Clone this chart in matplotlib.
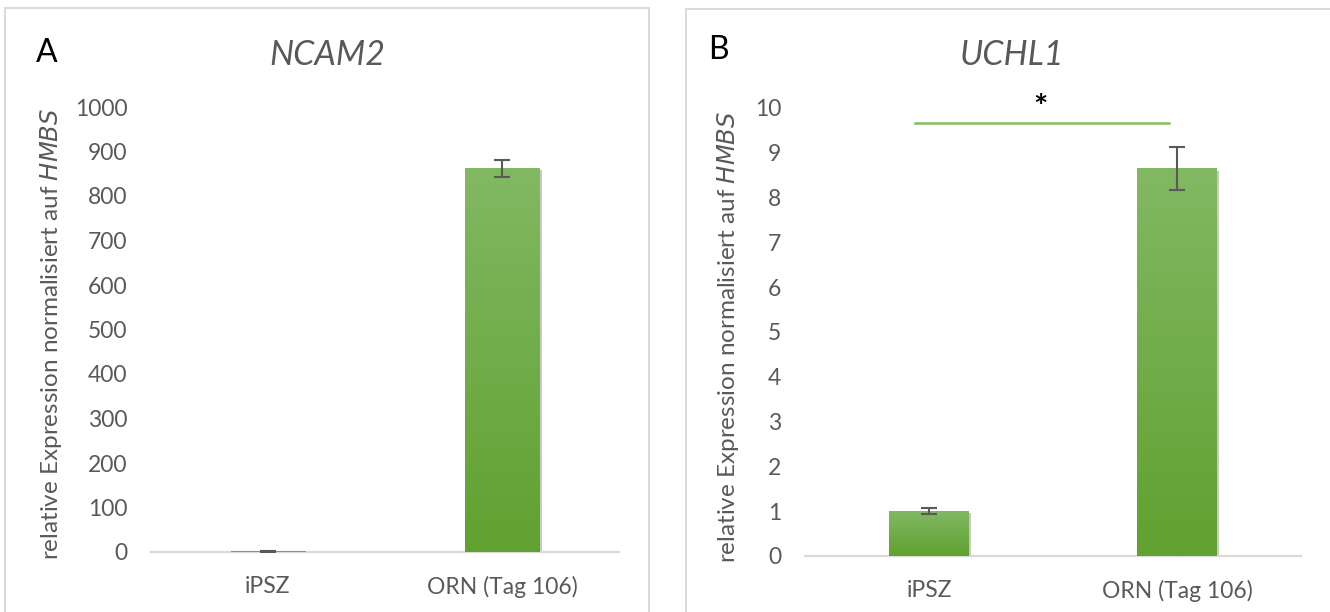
import matplotlib
matplotlib.use("Agg")
import matplotlib.pyplot as plt
import matplotlib.patheffects as pe
from matplotlib.patches import Rectangle
import numpy as np

plt.rcParams["font.family"] = ["Lato", "DejaVu Sans"]

categories = ["iPSZ", "ORN (Tag 106)"]

ncam2_values = [1.0, 862.0]
ncam2_errors = [2.0, 20.0]

uchl1_values = [1.0, 8.65]
uchl1_errors = [0.07, 0.47]

ncam2_ticks = list(range(0, 1001, 100))
uchl1_ticks = list(range(0, 11))

W, H = 1330, 612
TEXT_GREY = "#595959"
AXIS_GREY = "#d9d9d9"
GREEN_TOP = np.array([0x82, 0xb8, 0x63]) / 255
GREEN_BOTTOM = np.array([0x60, 0xa1, 0x30]) / 255


def px_rect(left, top, right, bottom):
    return [left / W, 1 - bottom / H, (right - left) / W, (bottom - top) / H]


def gradient_bars(ax, values, width):
    grad = np.linspace(0, 1, 256)[:, None]
    cols = GREEN_TOP[None, None, :] * (1 - grad[..., None]) + GREEN_BOTTOM[None, None, :] * grad[..., None]
    bars = ax.bar(range(len(values)), values, width=width, color=GREEN_BOTTOM, zorder=2,
                  path_effects=[pe.SimplePatchShadow(offset=(1.5, -1.5), alpha=0.25), pe.Normal()])
    for bar in bars:
        x0 = bar.get_x()
        h = bar.get_height()
        ax.imshow(cols, extent=[x0, x0 + bar.get_width(), 0, h], aspect="auto",
                  zorder=3, interpolation="bilinear")
    return bars


def style_axis(ax, ymax, ticks):
    ax.set_xlim(-0.5, 1.5)
    ax.set_ylim(0, ymax)
    ax.set_yticks(ticks)
    ax.set_xticks(range(len(categories)), categories)
    for side in ("top", "right", "left"):
        ax.spines[side].set_visible(False)
    ax.spines["bottom"].set_color(AXIS_GREY)
    ax.spines["bottom"].set_linewidth(1.6)
    ax.tick_params(axis="both", length=0, labelsize=16.5, labelcolor=TEXT_GREY)
    ax.tick_params(axis="y", pad=17)
    ax.tick_params(axis="x", pad=17)
    ax.set_ylabel("relative Expression normalisiert auf $\\mathit{HMBS}$", fontsize=17.5,
                  color=TEXT_GREY)
    ax.patch.set_alpha(0)


fig = plt.figure(figsize=(W / 100, H / 100), dpi=100)

# panel frames
for rect in (px_rect(5, 8, 649, 640), px_rect(686, 9, 1360, 640)):
    fig.patches.append(Rectangle((rect[0], rect[1]), rect[2], rect[3], transform=fig.transFigure,
                                 fill=False, edgecolor=AXIS_GREY, linewidth=1.4, zorder=0))

ax_a = fig.add_axes(px_rect(151, 107, 619, 552))
gradient_bars(ax_a, ncam2_values, 0.32)
ax_a.errorbar(range(2), ncam2_values, yerr=ncam2_errors, fmt="none", ecolor=TEXT_GREY,
              elinewidth=1.5, capsize=6, capthick=1.5, zorder=4)
style_axis(ax_a, 1000, ncam2_ticks)
ax_a.yaxis.set_label_coords(-0.185, 0.49)
fig.text(47 / W, 1 - 53 / H, "A", fontsize=23, color="black", ha="center", va="center")
fig.text(327 / W, 1 - 55 / H, "NCAM2", fontsize=24.5, style="italic", color=TEXT_GREY,
         ha="center", va="center")

ax_b = fig.add_axes(px_rect(805, 108, 1301, 556))
gradient_bars(ax_b, uchl1_values, 0.32)
ax_b.errorbar(range(2), uchl1_values, yerr=uchl1_errors, fmt="none", ecolor=TEXT_GREY,
              elinewidth=1.5, capsize=6, capthick=1.5, zorder=4)
style_axis(ax_b, 10, uchl1_ticks)
ax_b.yaxis.set_label_coords(-0.13, 0.49)
ax_b.plot([-0.056, 0.968], [9.67, 9.67], color="#82bd60", linewidth=1.8, zorder=2,
          clip_on=False)
ax_b.text(0.448, 9.98, "*", fontsize=24, color="black", ha="center", va="center",
          fontweight="bold")
fig.text(718 / W, 1 - 50 / H, "B", fontsize=23, color="black", ha="center", va="center")
fig.text(1012 / W, 1 - 55 / H, "UCHL1", fontsize=24.5, style="italic", color=TEXT_GREY,
         ha="center", va="center")

fig.savefig("out.png", dpi=100)
